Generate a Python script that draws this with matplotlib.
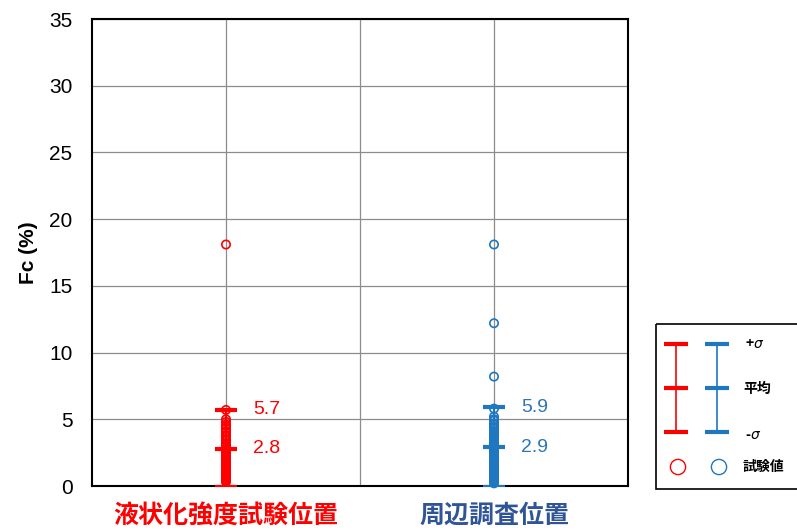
import numpy as np
import matplotlib.pyplot as plt
from matplotlib.patches import Rectangle

plt.rcParams['font.family'] = ['Liberation Sans Narrow', 'Liberation Sans', 'Noto Sans CJK JP', 'DejaVu Sans']

## data
groups = ['液状化強度試験位置', '周辺調査位置']
red_vals = [18.1, 5.7, 5.0, 4.8, 4.6, 4.5, 4.3, 4.1, 4.0, 3.8, 3.7, 3.5, 3.4, 3.2, 3.1,
            3.0, 2.9, 2.8, 2.7, 2.6, 2.5, 2.4, 2.3, 2.2, 2.1, 2.0, 1.9, 1.8, 1.7, 1.6,
            1.5, 1.4, 1.3, 1.2, 1.1, 1.0, 0.9, 0.8, 0.7, 0.6, 0.5, 0.4, 0.3]
blue_vals = [18.1, 12.2, 8.2, 5.8, 5.2, 5.0, 4.9, 4.7, 4.6, 4.4, 4.3, 4.1, 4.0, 3.9, 3.7,
             3.6, 3.5, 3.3, 3.2, 3.1, 3.0, 2.9, 2.8, 2.7, 2.6, 2.5, 2.4, 2.3, 2.2, 2.1,
             2.0, 1.9, 1.8, 1.7, 1.6, 1.5, 1.4, 1.3, 1.2, 1.1, 1.0, 0.9, 0.8, 0.7, 0.6,
             0.5, 0.4, 0.3, 0.2]
means = [2.8, 2.9]
stds = [2.9, 3.0]

red = '#FF0000'
blue = '#1F77C0'
label_cols = ['#FF0000', '#2F5597']
num_cols = [red, '#2E75B6']
xpos = [1, 3]

fig = plt.figure(figsize=(7.97, 5.32), dpi=100)
ax = fig.add_axes([92/797, 1 - 486/532, 536/797, 467/532])

for x, vals, c in zip(xpos, [red_vals, blue_vals], [red, blue]):
    ax.scatter([x]*len(vals), vals, s=36, facecolors='none', edgecolors=c, linewidths=1.2, zorder=3, clip_on=False)

for x, m, s, c, nc in zip(xpos, means, stds, [red, blue], num_cols):
    ax.errorbar(x, m, yerr=s, fmt='_', color=c, markersize=16, mew=3,
                capsize=8, capthick=3, elinewidth=1.5, zorder=4)
    ax.text(x + 0.2, m + s, f'{m + s:.1f}', color=nc, fontsize=14, va='center', ha='left')
    ax.text(x + 0.2, m, f'{m:.1f}', color=nc, fontsize=14, va='center', ha='left')

ax.set_xlim(0, 4)
ax.set_ylim(0, 35)
ax.set_xticks([1, 2, 3])
ax.set_xticklabels([])
ax.set_yticks(np.arange(0, 36, 5))
ax.tick_params(axis='both', length=0, labelsize=15, pad=14)
ax.grid(True, color='#8c8c8c', linewidth=0.9)
ax.set_axisbelow(True)
for sp in ax.spines.values():
    sp.set_linewidth(1.5)
ax.set_ylabel('Fc (%)', fontsize=15, fontweight='bold', family=['Liberation Sans', 'DejaVu Sans'], labelpad=8)

for x, g, c in zip(xpos, groups, label_cols):
    ax.text(x, -2.2, g, color=c, fontsize=18, fontweight='bold', ha='center', va='center',
            family=['Noto Sans CJK JP', 'DejaVu Sans'])

## legend drawn by hand
lg = fig.add_axes([655/797, 1 - 490/532, 142/797, 167/532])
lg.set_xlim(0, 142)
lg.set_ylim(167, 0)
lg.axis('off')
lg.add_patch(Rectangle((1, 1), 160, 165, fill=False, edgecolor='black', linewidth=1.2, clip_on=False))
for lx, c in zip([21, 62], [red, blue]):
    lg.plot([lx, lx], [21, 109], color=c, linewidth=1.2)
    for ly in [21, 65, 109]:
        lg.plot([lx - 12, lx + 12], [ly, ly], color=c, linewidth=3, solid_capstyle='butt')
    lg.scatter([lx + 2], [144], s=120, facecolors='none', edgecolors=c, linewidths=1)
cjk = ['Noto Sans CJK JP', 'DejaVu Sans']
lg.text(90, 21, r'+$\sigma$', fontsize=10, fontweight='bold', va='center', family=cjk)
lg.text(88, 66, '平均', fontsize=10, fontweight='bold', va='center', family=cjk)
lg.text(90, 112, r'-$\sigma$', fontsize=10, fontweight='bold', va='center', family=cjk)
lg.text(88, 144, '試験値', fontsize=10, fontweight='bold', va='center', family=cjk)

plt.savefig('out.png', dpi=100)
